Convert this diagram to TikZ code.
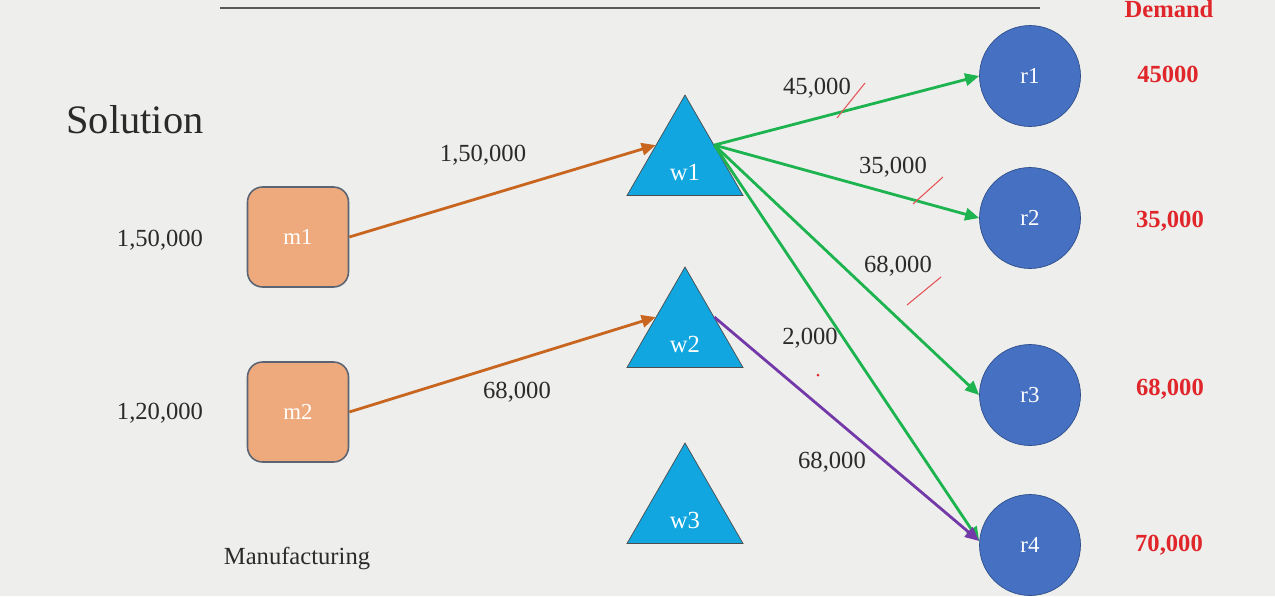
\documentclass[tikz,border=0pt]{standalone}
\usepackage{fontspec}
\setmainfont{Liberation Serif}
\usetikzlibrary{shapes.geometric,arrows.meta,calc}
\definecolor{bg}{HTML}{EEEFED}
\definecolor{mfill}{HTML}{EEAA7C}
\definecolor{mdraw}{HTML}{5A6472}
\definecolor{wfill}{HTML}{12A6E0}
\definecolor{rfill}{HTML}{4670C2}
\definecolor{rdraw}{HTML}{2F4F8A}
\definecolor{orng}{HTML}{C8651F}
\definecolor{grn}{HTML}{1DB34F}
\definecolor{purp}{HTML}{7339A8}
\definecolor{dred}{HTML}{E0262A}
\definecolor{txt}{HTML}{2A2A2A}
\tikzset{
  px/.style={x=0.02cm,y=-0.02cm},
  mbox/.style={draw=mdraw,line width=0.9pt,fill=mfill,rounded corners=0.3cm,minimum width=2.02cm,minimum height=2.0cm,text=white,font=\fontsize{13}{15}\selectfont},
  wtri/.style={draw=black!70,fill=wfill,regular polygon,regular polygon sides=3,minimum size=2.68cm,inner sep=0pt},
  wlab/.style={text=white,font=\fontsize{14}{16}\selectfont},
  rcirc/.style={draw=rdraw,fill=rfill,circle,minimum size=2.02cm,inner sep=0pt,text=white,font=\fontsize{13}{15}\selectfont},
  lab/.style={text=txt,font=\fontsize{14}{16}\selectfont,inner sep=1pt},
  dem/.style={text=dred,font=\fontsize{14}{16}\selectfont\bfseries},
  flow/.style={line width=1.6pt,-{Triangle[length=8pt,width=7pt]}},
  tick/.style={draw=dred!80,line width=0.6pt},
}
\begin{document}
\begin{tikzpicture}[px]
\fill[bg] (0,0) rectangle (1275,596);
\useasboundingbox (0,0) rectangle (1275,596);
\coordinate (L1) at (220,8);
\coordinate (L2) at (1040,8);
\draw[black!65,line width=1.5pt] (L1) -- (L2);
\node[dem,anchor=base,inner sep=0pt] (dh) at (1169,17) {Demand};
\node[text=txt,font=\fontsize{23}{26}\selectfont] (sol) at (135,120) {Solution};
\node[mbox] (m1) at (298,237) {m1};
\node[mbox] (m2) at (298,412) {m2};
\node[lab] (s1) at (160,240) {1,50,000};
\node[lab] (s2) at (160,413) {1,20,000};
\node[lab] (man) at (297,558) {Manufacturing};
\node[wtri] (w1) at (685,162) {};
\node[wtri] (w2) at (685,334) {};
\node[wtri] (w3) at (685,510) {};
\node[wlab] (w1t) at (685,172) {w1};
\node[wlab] (w2t) at (685,344) {w2};
\node[wlab] (w3t) at (685,520) {w3};
\node[rcirc] (r1) at (1030,76) {r1};
\node[rcirc] (r2) at (1030,218) {r2};
\node[rcirc] (r3) at (1030,395) {r3};
\node[rcirc] (r4) at (1030,545) {r4};
\node[dem] (d1) at (1168,74) {45000};
\node[dem] (d2) at (1170,221) {35,000};
\node[dem] (d3) at (1170,389) {68,000};
\node[dem] (d4) at (1169,545) {70,000};
\coordinate (w1in) at ($(w1.corner 1)!0.5!(w1.corner 2)$);
\coordinate (w1out) at ($(w1.corner 1)!0.5!(w1.corner 3)$);
\coordinate (w2in) at ($(w2.corner 1)!0.5!(w2.corner 2)$);
\coordinate (w2out) at ($(w2.corner 1)!0.5!(w2.corner 3)$);
\draw[flow,orng] (m1.east) -- (w1in);
\draw[flow,orng] (m2.east) -- (w2in);
\draw[flow,grn] (w1out) -- (r1.west);
\draw[flow,grn] (w1out) -- (r2.west);
\draw[flow,grn] (w1out) -- (r3.west);
\draw[flow,grn] (w1out) -- ($(r4.west)+(0,-4)$);
\draw[flow,purp] (w2out) -- ($(r4.west)+(0,-4)$);
\node[lab] (f1) at (483,155) {1,50,000};
\node[lab] (f2) at (517,392) {68,000};
\node[lab] (f3) at (817,88) {45,000};
\node[lab] (f4) at (893,167) {35,000};
\node[lab] (f5) at (898,266) {68,000};
\node[lab] (f6) at (810,338) {2,000};
\node[lab] (f7) at (832,462) {68,000};
\coordinate (t1a) at (837,118); \coordinate (t1b) at (865,83);
\coordinate (t2a) at (913,204); \coordinate (t2b) at (943,177);
\coordinate (t3a) at (907,305); \coordinate (t3b) at (941,277);
\draw[tick] (t1a) -- (t1b);
\draw[tick] (t2a) -- (t2b);
\draw[tick] (t3a) -- (t3b);
\coordinate (dot) at (818,375);
\fill[dred] (dot) circle (1.5);
\end{tikzpicture}
\end{document}
